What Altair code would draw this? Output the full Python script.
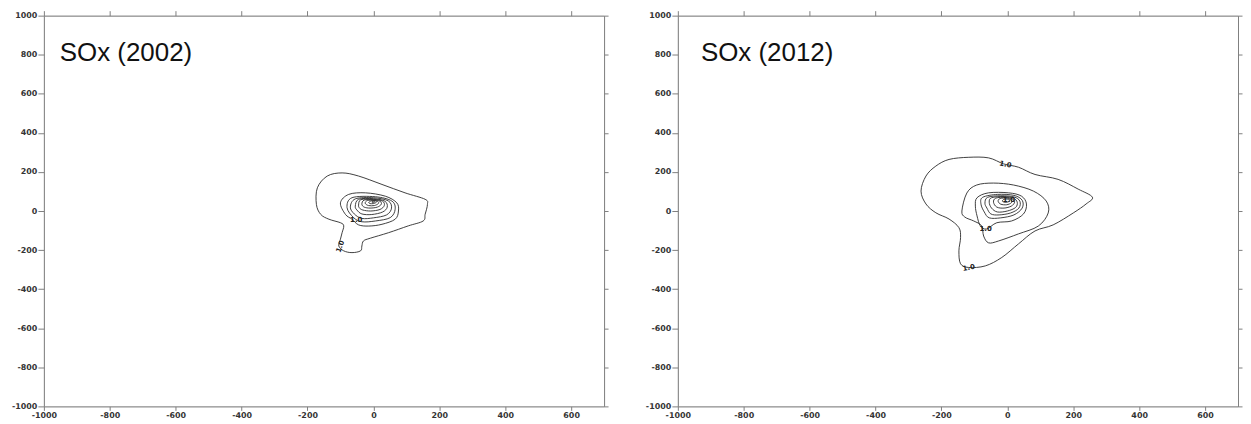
import altair as alt
import pandas as pd

# ---------------- data ----------------
X_TICKS = [-1000, -800, -600, -400, -200, 0, 200, 400, 600]
Y_TICKS = [-1000, -800, -600, -400, -200, 0, 200, 400, 600, 800, 1000]
X_DOMAIN = [-1000, 700]
Y_DOMAIN = [-1000, 1000]

PANEL_TITLES = ["SOx (2002)", "SOx (2012)"]
TITLE_X = [-952, -930]
TITLE_Y = [770, 770]

# contour loops, 2002 panel (outer -> inner)
L2002 = [
    [(-173, 34), (-170, 119), (-140, 179), (-95, 195), (-45, 179), (26, 136), (96, 93), (157, 60),
     (164, 34), (157, -17), (151, -51), (106, -76), (46, -111), (-9, -139), (-30, -153), (-35, -179),
     (-39, -204), (-65, -213), (-90, -204), (-105, -179), (-100, -144), (-95, -111), (-90, -76),
     (-100, -60), (-135, -42), (-160, -17)],
    [(-100, 42), (-75, 85), (-24, 93), (36, 76), (71, 42), (76, 0), (66, -42), (26, -68), (-14, -77),
     (-45, -71), (-65, -42), (-85, -17)],
    [(-80, 17), (-65, 68), (6, 73), (56, 51), (66, 9), (51, -34), (6, -51), (-35, -55), (-60, -34)],
    [(-70, 20), (-55, 62), (0, 68), (45, 52), (55, 15), (40, -20), (0, -35), (-35, -38), (-58, -15)],
    [(-55, 25), (-45, 60), (0, 63), (35, 50), (42, 20), (28, -5), (-5, -18), (-35, -15), (-50, 5)],
    [(-45, 30), (-38, 58), (0, 60), (28, 50), (33, 28), (20, 8), (-8, 0), (-32, 5), (-42, 15)],
    [(-35, 35), (-28, 56), (0, 57), (20, 50), (24, 35), (12, 20), (-10, 15), (-28, 20)],
    [(-25, 40), (-18, 54), (2, 55), (14, 48), (15, 38), (3, 28), (-15, 28)],
    [(-14, 44), (-6, 52), (6, 52), (9, 45), (0, 38), (-10, 38)],
    [(-5, 46), (0, 50), (4, 47), (0, 43)],
]

# contour loops, 2012 panel (outer -> inner)
L2012 = [
    [(-262, 102), (-247, 179), (-217, 230), (-177, 264), (-117, 275), (-57, 272), (-11, 241), (34, 224),
     (84, 187), (154, 162), (215, 112), (258, 71), (239, 36), (200, -10), (139, -71), (84, -102),
     (34, -168), (-17, -238), (-67, -281), (-117, -289), (-142, -270), (-147, -204), (-142, -136),
     (-147, -85), (-177, -41), (-217, -9), (-247, 36)],
    [(-138, 0), (-123, 92), (-93, 133), (-42, 143), (19, 133), (79, 102), (118, 51), (124, -10),
     (94, -77), (34, -117), (-26, -153), (-57, -163), (-72, -128), (-78, -76), (-102, -51), (-129, -31)],
    [(-97, 25), (-92, 68), (-57, 93), (4, 93), (43, 76), (58, 36), (49, -15), (13, -51), (-32, -60),
     (-63, -92), (-82, -76), (-92, -25)],
    [(-80, 35), (-75, 70), (-30, 85), (20, 80), (45, 55), (45, 15), (20, -20), (-20, -35), (-55, -35), (-70, -5)],
    [(-68, 40), (-60, 70), (-20, 78), (20, 72), (38, 50), (35, 15), (10, -10), (-25, -20), (-50, -15), (-62, 15)],
    [(-55, 45), (-48, 68), (-10, 74), (18, 66), (30, 45), (25, 18), (0, 0), (-30, -5), (-48, 15)],
    [(-42, 45), (-35, 66), (-5, 70), (15, 62), (22, 45), (12, 25), (-10, 15), (-32, 20)],
    [(-28, 50), (-22, 64), (0, 66), (12, 56), (12, 42), (-2, 32), (-20, 35)],
    [(-15, 50), (-10, 60), (5, 60), (6, 50), (-5, 44)],
]

# contour labels (x, y, angle)
LAB2002 = [(-100, -182, 290), (-52, -48, 0)]
LAB2012 = [(-6, 238, 12), (-117, -291, 350), (5, 58, 0), (-66, -90, 0)]
LAB_TEXT = "1.0"

LINE_COLOR = "#2b2b2b"
AXIS_COLOR = "#808080"
LABEL_COLOR = "#333333"
PLOT_W = 562
PLOT_H = 392


def contour_table(loops):
    rows = []
    for cid, loop in enumerate(loops):
        for i, (x, y) in enumerate(loop):
            rows.append({"cid": cid, "i": i, "x": x, "y": y})
    return pd.DataFrame(rows)


HYPHEN = "replace(format(datum.value, 'd'), '\u2212', '-')"


def panel(loops, labels, title, tx, ty):
    xs = alt.Scale(domain=X_DOMAIN, nice=False, zero=False)
    ys = alt.Scale(domain=Y_DOMAIN, nice=False, zero=False)
    base = dict(domainColor=AXIS_COLOR, tickColor=AXIS_COLOR, grid=False, title=None)
    lab = dict(labelFont="DejaVu Sans", labelFontSize=8, labelFontWeight="bold",
               labelColor=LABEL_COLOR, labelFlush=False, labelOverlap=False, labelExpr=HYPHEN)
    xa = alt.Axis(values=X_TICKS, orient="bottom", tickSize=4, labelPadding=1, **base, **lab)
    ya = alt.Axis(values=Y_TICKS, orient="left", tickSize=6, labelPadding=1, **base, **lab)
    xa_top = alt.Axis(values=X_TICKS, orient="top", tickSize=5, labels=False, **base)
    ya_right = alt.Axis(values=Y_TICKS, orient="right", tickSize=4, labels=False, **base)

    df = contour_table(loops)
    lines = alt.Chart(df).mark_line(color=LINE_COLOR, strokeWidth=0.9, interpolate="cardinal-closed").encode(
        x=alt.X("x:Q", scale=xs, axis=xa),
        y=alt.Y("y:Q", scale=ys, axis=ya),
        detail="cid:N",
        order="i:Q",
    )
    frame = alt.Chart(df).mark_line(opacity=0).encode(
        x=alt.X("x:Q", scale=xs, axis=xa_top),
        y=alt.Y("y:Q", scale=ys, axis=ya_right),
        detail="cid:N",
        order="i:Q",
    )
    ldf = pd.DataFrame([{"x": x, "y": y, "a": a, "t": LAB_TEXT} for x, y, a in labels])
    labs = alt.Chart(ldf).mark_text(fontSize=7, fontWeight="bold", color="#222", font="DejaVu Sans").encode(
        x=alt.X("x:Q", scale=xs, axis=None), y=alt.Y("y:Q", scale=ys, axis=None),
        angle=alt.Angle("a:Q", scale=None), text="t:N"
    )
    tdf = pd.DataFrame([{"x": tx, "y": ty, "t": title}])
    ttl = alt.Chart(tdf).mark_text(fontSize=26, font="Liberation Sans", align="left", baseline="alphabetic", color="#111").encode(
        x=alt.X("x:Q", scale=xs, axis=None), y=alt.Y("y:Q", scale=ys, axis=None), text="t:N"
    )
    return alt.layer(lines, frame, labs, ttl).resolve_axis(x="independent", y="independent").properties(
        width=PLOT_W, height=PLOT_H
    )


p1 = panel(L2002, LAB2002, PANEL_TITLES[0], TITLE_X[0], TITLE_Y[0])
p2 = panel(L2012, LAB2012, PANEL_TITLES[1], TITLE_X[1], TITLE_Y[1])

chart = alt.hconcat(p1, p2, spacing=35).properties(
    padding={"left": 2, "top": 1, "right": 0, "bottom": 0}
).configure_view(stroke=None).configure(background="white")

chart.save("out.html", embed_options={"renderer": "svg", "actions": False})
